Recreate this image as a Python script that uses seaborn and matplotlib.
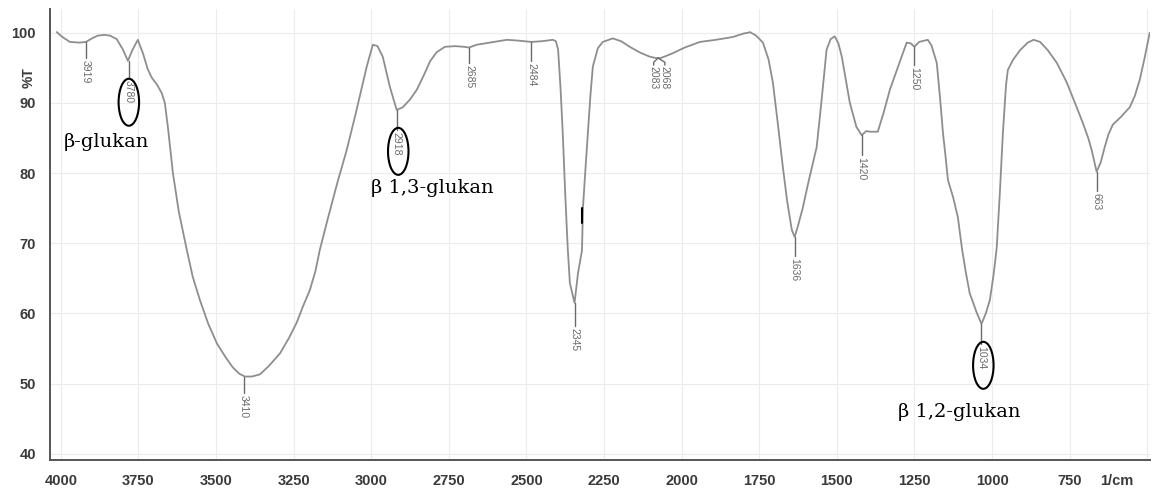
import numpy as np
import pandas as pd
import matplotlib.pyplot as plt
import seaborn as sns
from matplotlib.patches import Ellipse
from matplotlib.ticker import MultipleLocator, FixedLocator

# FTIR spectrum (wavenumber 1/cm, %T)
wavenumber = [4013, 3995, 3971, 3940, 3919, 3900, 3881, 3860, 3842, 3820, 3800, 3784, 3770, 3752,
              3735, 3720, 3707, 3690, 3675, 3665, 3655, 3639, 3620, 3594, 3575, 3552, 3525, 3497,
              3470, 3446, 3425, 3407, 3385, 3359, 3330, 3294, 3265, 3240, 3220, 3198, 3180, 3166,
              3140, 3110, 3079, 3050, 3015, 2995, 2980, 2963, 2940, 2918, 2898, 2875, 2853, 2830,
              2811, 2790, 2763, 2730, 2700, 2685, 2660, 2618, 2590, 2563, 2530, 2484, 2450, 2415,
              2405, 2398, 2390, 2383, 2375, 2367, 2360, 2345, 2334, 2321, 2318, 2310, 2302, 2294,
              2286, 2270, 2254, 2222, 2195, 2167, 2135, 2103, 2083, 2068, 2050, 2028, 1990, 1941,
              1890, 1835, 1800, 1787, 1780, 1760, 1738, 1720, 1706, 1690, 1674, 1660, 1645, 1636,
              1625, 1610, 1590, 1565, 1550, 1533, 1520, 1507, 1495, 1484, 1470, 1458, 1437, 1420,
              1405, 1394, 1368, 1350, 1329, 1300, 1275, 1262, 1250, 1235, 1207, 1195, 1178, 1168,
              1158, 1150, 1142, 1125, 1110, 1097, 1085, 1072, 1050, 1034, 1020, 1007, 995, 985,
              975, 965, 955, 949, 933, 910, 885, 866, 845, 820, 791, 760, 730, 707, 690, 679, 663,
              650, 637, 625, 611, 585, 556, 540, 524, 508, 492]
transmittance = [100.1, 99.4, 98.7, 98.6, 98.7, 99.2, 99.6, 99.7, 99.6, 99.1, 97.6, 96.0, 97.5, 99.0,
                 97.0, 94.8, 93.6, 92.6, 91.4, 90.0, 86.5, 80.0, 74.5, 69.0, 65.2, 61.9, 58.5, 55.7,
                 53.8, 52.3, 51.4, 51.0, 51.0, 51.3, 52.5, 54.3, 56.5, 58.7, 61.0, 63.3, 66.0, 69.0,
                 73.5, 78.5, 83.3, 88.5, 95.1, 98.3, 98.1, 96.6, 92.3, 89.0, 89.4, 90.5, 91.9, 94.0,
                 95.9, 97.2, 98.0, 98.1, 98.0, 97.9, 98.3, 98.6, 98.8, 99.0, 98.9, 98.7, 98.8, 99.0,
                 98.8, 97.6, 92.0, 85.7, 77.0, 69.3, 64.3, 61.5, 65.7, 69.0, 75.0, 80.5, 85.7, 91.0,
                 95.2, 97.8, 98.7, 99.2, 98.8, 98.0, 97.2, 96.6, 96.4, 96.4, 96.7, 97.1, 97.9, 98.7,
                 99.0, 99.4, 99.9, 100.0, 100.1, 99.6, 98.6, 96.2, 92.9, 87.0, 80.9, 76.0, 71.9, 70.9,
                 72.5, 75.0, 79.0, 83.7, 90.0, 97.6, 99.1, 99.5, 98.5, 96.6, 93.0, 90.0, 86.6, 85.4,
                 86.0, 85.9, 85.9, 88.5, 91.9, 95.5, 98.6, 98.5, 98.0, 98.7, 99.0, 98.2, 95.7, 91.0,
                 85.7, 82.5, 79.0, 76.5, 73.7, 69.3, 66.0, 62.9, 60.2, 58.5, 60.0, 61.9, 65.5, 69.3,
                 77.0, 85.7, 92.5, 94.7, 96.1, 97.5, 98.6, 99.0, 98.7, 97.5, 95.7, 93.0, 89.7, 87.1,
                 85.0, 83.3, 80.2, 81.5, 83.7, 85.5, 86.9, 88.0, 89.4, 91.0, 93.3, 96.5, 100.0]

# peak picks: position, %T at the peak, %T where the label starts
peak_x = [3919, 3780, 3410, 2918, 2685, 2484, 2345, 1636, 1420, 1250, 1034, 663]
peak_y = [98.7, 96.0, 51.0, 89.0, 97.9, 98.7, 61.5, 70.9, 85.4, 98.0, 58.5, 80.2]
label_top = [96.1, 93.3, 48.3, 85.9, 95.4, 95.7, 57.9, 67.9, 82.3, 95.1, 55.4, 77.1]
peak_text = ['3919', '3780', '3410', '2918', '2685', '2484', '2345', '1636', '1420', '1250', '1034', '663']

# the close pair around 2076
pair_x = [2090, 2054]
pair_text = ['2083', '2068']

# circled bands and their names
circle_x = [3781, 2913, 1028]
circle_y = [90.1, 83.1, 52.6]
band_names = ['β-glukan', 'β 1,3-glukan', 'β 1,2-glukan']
band_x = [3852, 2802, 1104]
band_y = [84.4, 77.9, 45.9]

df = pd.DataFrame({'wn': wavenumber, 'T': transmittance})

sns.set_style('white')
plt.rcParams['font.family'] = ['Liberation Sans', 'DejaVu Sans']

fig = plt.figure(figsize=(11.52, 4.97), dpi=100)
ax = fig.add_axes([0.0434, 0.0744, 0.9546, 0.9076])

sns.lineplot(data=df, x='wn', y='T', sort=False, color='#8e8e8e', linewidth=1.3, ax=ax)

ax.set_xlim(4035, 492)
ax.set_ylim(39.1, 103.4)

# peak sticks and labels
lab_col = '#6a6a6a'
for x, y, t, s in zip(peak_x, peak_y, label_top, peak_text):
    ax.plot([x, x], [y, t + 0.3], color=lab_col, linewidth=1.0)
    ax.text(x, t, s, rotation=-90, ha='center', va='top', fontsize=7.5, color=lab_col)

ax.plot([2076, 2090, 2090], [96.4, 95.8, 95.4], color=lab_col, linewidth=1.0)
ax.plot([2076, 2054, 2054], [96.4, 95.8, 95.4], color=lab_col, linewidth=1.0)
for x, s in zip(pair_x, pair_text):
    ax.text(x, 95.3, s, rotation=-90, ha='center', va='top', fontsize=7.5, color=lab_col)

# small black mark on the flank of the 2345 band
ax.plot([2320, 2320], [72.9, 75.0], color='black', linewidth=1.5)

for cx, cy in zip(circle_x, circle_y):
    ax.add_patch(Ellipse((cx, cy), width=66, height=6.7, fill=False,
                         edgecolor='black', linewidth=1.5, zorder=5))
for x, y, s in zip(band_x, band_y, band_names):
    ax.text(x, y, s, ha='center', va='center', fontsize=14, color='black',
            family=['DejaVu Serif'])

# axes styling
xt = np.arange(4000, 499, -250)
ax.xaxis.set_major_locator(FixedLocator(xt))
ax.xaxis.set_minor_locator(MultipleLocator(50))
ax.yaxis.set_major_locator(MultipleLocator(10))
ax.yaxis.set_minor_locator(MultipleLocator(2))
ax.set_xticklabels([str(v) if v > 500 else '' for v in xt])

ax.grid(True, which='major', color='#ececec', linewidth=0.8)
for side in ['top', 'right']:
    ax.spines[side].set_visible(False)
for side in ['left', 'bottom']:
    ax.spines[side].set_color('#555555')
    ax.spines[side].set_linewidth(1.4)

ax.tick_params(which='major', length=8, width=1.1, color='#555555',
               labelsize=10.5, labelcolor='#3a3a3a', pad=2)
ax.tick_params(which='minor', length=5, width=1.0, color='#555555')
for lab in ax.get_xticklabels() + ax.get_yticklabels():
    lab.set_fontweight('bold')

ax.set_xlabel('')
ax.set_ylabel('%T', fontsize=10, fontweight='bold', color='#3a3a3a')
ax.yaxis.set_label_coords(-0.0127, 0.847)
ax.text(598, -0.031, '1/cm', transform=ax.get_xaxis_transform(), ha='center', va='top',
        fontsize=10.5, fontweight='bold', color='#3a3a3a')

fig.savefig('out.png', dpi=100)
